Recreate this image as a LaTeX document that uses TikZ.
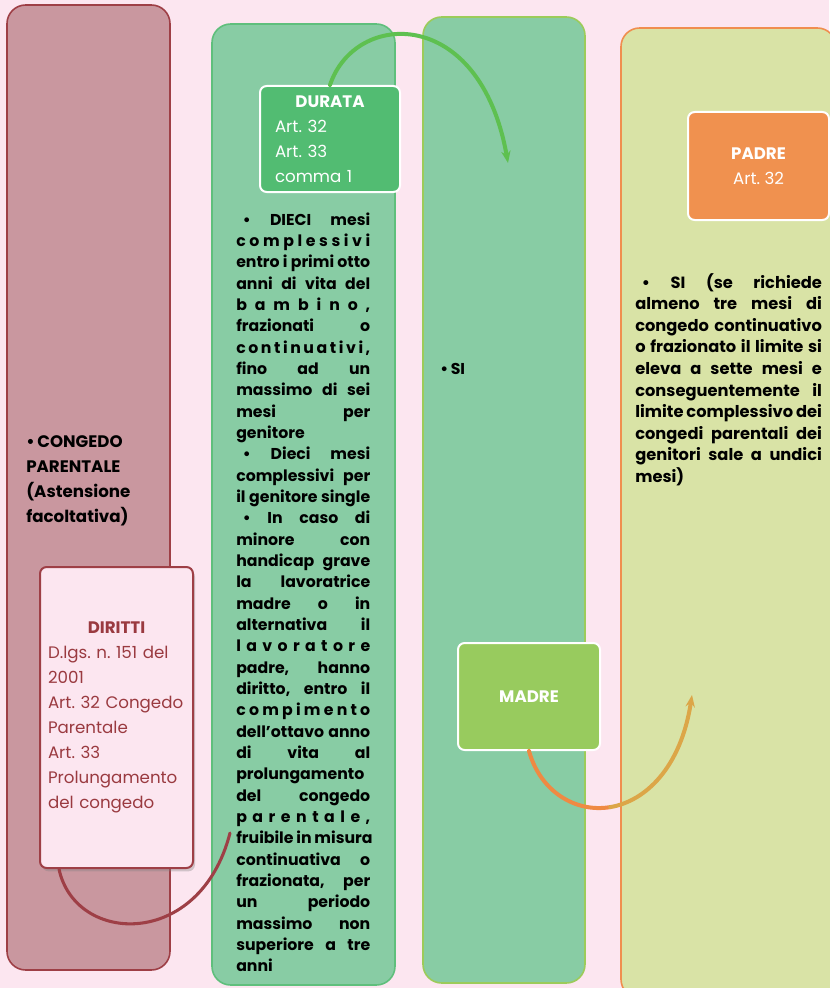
\documentclass[tikz,border=0pt]{standalone}
\usepackage{fontspec}
\setmainfont{Poppins}
\usetikzlibrary{arrows.meta,shadows}

\definecolor{fondo}{HTML}{FCE6F0}
\definecolor{maroonfill}{HTML}{C9979F}
\definecolor{maroonline}{HTML}{9E3F46}
\definecolor{maroontext}{HTML}{9A3A40}
\definecolor{verdecol}{HTML}{88CCA4}
\definecolor{verdeline}{HTML}{5FBF7C}
\definecolor{limeline}{HTML}{9CCB5A}
\definecolor{giallocol}{HTML}{D9E3A6}
\definecolor{arancioline}{HTML}{F08E4F}
\definecolor{duratafill}{HTML}{52BC72}
\definecolor{padrefill}{HTML}{F0914F}
\definecolor{madrefill}{HTML}{98CB5E}
\definecolor{arcoverde}{HTML}{5EC050}
\definecolor{arcoarancio}{HTML}{EF8A43}
\definecolor{arcooro}{HTML}{DCA648}

% justified line, and a word with stretched letters
\newcommand\jl[1]{\makebox[\linewidth][s]{\spaceskip=.3em plus 1fil minus .12em\xspaceskip=\spaceskip #1}\\}
\def\spreadfirst#1{#1\spreadrest}
\def\spreadrest#1{\ifx#1\relax\else\hfill#1\expandafter\spreadrest\fi}
\newcommand\sw[1]{\makebox[\linewidth][s]{\spreadfirst#1\relax}\\}

\begin{document}
\frenchspacing
\begin{tikzpicture}[x=0.75pt,y=-0.75pt,
        colbox/.style={rounded corners=14pt, line width=1.2pt},
        labbox/.style={rectangle, rounded corners=5pt, line width=1.5pt, draw=white,
                text=white, inner sep=0pt, font=\fontsize{12.5pt}{18.75pt}\selectfont},
        coltext/.style={inner sep=0pt, align=left, font=\bfseries\fontsize{11.8pt}{16pt}\selectfont},
        freccia/.style={line width=3pt, line cap=round}]
        \useasboundingbox (0,0) rectangle (829,988);
        \fill [fondo] (0,0) rectangle (829,988);

        % columns
        \draw [colbox, fill=maroonfill, draw=maroonline] (7,5) rectangle (170,970);
        \draw [colbox, fill=verdecol, draw=verdeline] (212,24) rectangle (395,985);
        \draw [colbox, fill=verdecol, draw=limeline] (423,17) rectangle (585,983);
        \draw [colbox, fill=giallocol, draw=arancioline] (621,28) rectangle (836,998);

        \node [coltext, text width=110pt, anchor=base west, font=\bfseries\fontsize{12.5pt}{18.75pt}\selectfont] (congedo) at (26,447)
                {\textbullet\,CONGEDO\\PARENTALE\\(Astensione\\facoltativa)};

        \node [coltext, text width=100.5pt, anchor=base west] (durtext) at (236,225) {%
                \jl{\hspace{5pt}\textbullet{} DIECI mesi}
                \sw{complessivi}
                \jl{entro i primi otto}
                \jl{anni di vita del}
                \sw{bambino,}
                \jl{frazionati o}
                \sw{continuativi,}
                \jl{fino ad un}
                \jl{massimo di sei}
                \jl{mesi per}
                genitore\\
                \jl{\hspace{5pt}\textbullet{} Dieci mesi}
                \jl{complessivi per}
                \jl{il genitore single}
                \jl{\hspace{5pt}\textbullet{} In caso di}
                \jl{minore con}
                \jl{handicap grave}
                \jl{la lavoratrice}
                \jl{madre o in}
                \jl{alternativa il}
                \sw{lavoratore}
                \jl{padre, hanno}
                \jl{diritto, entro il}
                \sw{compimento}
                \jl{dell'ottavo anno}
                \jl{di vita al}
                \jl{prolungamento}
                \jl{del congedo}
                \sw{parentale,}
                \jl{fruibile in misura}
                \jl{continuativa o}
                \jl{frazionata, per}
                \jl{un periodo}
                \jl{massimo non}
                \jl{superiore a tre}
                anni};

        \node [coltext, anchor=base west] (si) at (440,374) {\textbullet\,SI};

        \node [coltext, text width=140pt, anchor=base west, font=\bfseries\fontsize{12.2pt}{16.2pt}\selectfont] (padretext) at (635,288) {%
                \jl{\hspace{5pt}\textbullet{} SI (se richiede}
                \jl{almeno tre mesi di}
                \jl{congedo continuativo}
                \jl{o frazionato il limite si}
                \jl{eleva a sette mesi e}
                \jl{conseguentemente il}
                \jl{limite complessivo dei}
                \jl{congedi parentali dei}
                \jl{genitori sale a undici}
                mesi)};

        % boxes
        \node [labbox, fill=duratafill, minimum width=105pt, minimum height=79.5pt, text width=82.5pt, inner xsep=11.25pt, align=left] (durata) at (330,139)
                {{\centering\bfseries DURATA\par}Art. 32\\Art. 33\\comma 1};
        \node [labbox, fill=padrefill, minimum width=105.75pt, minimum height=81pt, align=center] (padre) at (758.5,166)
                {\textbf{PADRE}\\Art. 32};
        \node [labbox, fill=madrefill, minimum width=106.5pt, minimum height=80.25pt, font=\bfseries\fontsize{12.5pt}{18.75pt}\selectfont] (madre) at (529,696.5)
                {MADRE};
        \node [labbox, fill=fondo, draw=maroonline, text=maroontext, minimum width=114.75pt, minimum height=225.75pt, text width=102.75pt, inner xsep=6pt, align=left,
                drop shadow={opacity=0.35, shadow xshift=1.5pt, shadow yshift=-2.5pt}] (diritti) at (116.5,717.5)
                {{\centering\bfseries DIRITTI\par}D.lgs. n. 151 del\\2001\\Art. 32 Congedo\\Parentale\\Art. 33\\Prolungamento\\del congedo};

        % connectors
        \coordinate (siarrow) at (508,163);
        \coordinate (padrearrow) at (692,695);
        \coordinate (madremid) at (610.25,807.1);
        \coordinate (durend) at (230,833);
        \draw [freccia, draw=arcoverde, -{Stealth[length=9pt,width=7pt]}] (durata.north) .. controls (355,10) and (480,5) .. (siarrow);
        \draw [freccia, draw=arcoarancio] (madre.south) .. controls (540,791) and (575,813) .. (madremid);
        \draw [freccia, draw=arcooro, -{Stealth[length=9pt,width=7pt]}] (madremid) .. controls (645.5,801.25) and (681,767.5) .. (padrearrow);
        \draw [freccia, draw=maroonline, line width=2.3pt] ([xshift=15pt]diritti.south west) .. controls (75,945) and (200,950) .. (durend);
\end{tikzpicture}
\end{document}
